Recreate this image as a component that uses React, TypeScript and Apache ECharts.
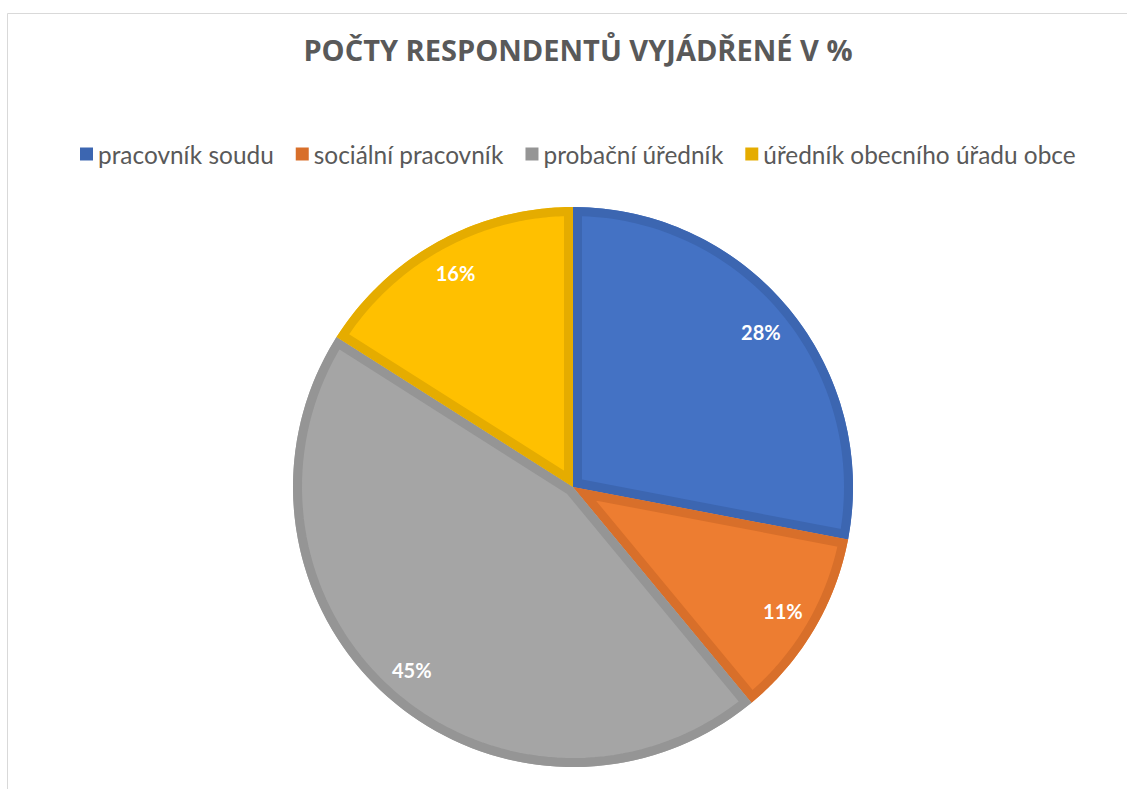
import React, { useEffect, useRef } from "react";
import * as echarts from "echarts";

const TITLE = "POČTY RESPONDENTŮ VYJÁDŘENÉ V %";
const CATEGORIES = [
  "pracovník soudu",
  "sociální pracovník",
  "probační úředník",
  "úředník obecního úřadu obce",
];
const VALUES = [28, 11, 45, 16];
const FILL_COLORS = ["#4472C4", "#ED7D31", "#A5A5A5", "#FFC000"];
const BORDER_COLORS = ["#3C66B1", "#D86F2A", "#959595", "#E5AC00"];

const CX = 573;
const CY = 487;
const R = 280;
const BORDER_W = 9;

export default function App() {
  const ref = useRef<HTMLDivElement>(null);
  useEffect(() => {
    if (!ref.current) return;
    const chart = echarts.init(ref.current, undefined, { renderer: "svg" });
    const total = VALUES.reduce((a, b) => a + b, 0);

    const renderBorder = (params: any, api: any) => {
      const i = params.dataIndex;
      let cum = 0;
      for (let k = 0; k < i; k++) cum += VALUES[k];
      const v = api.value(0);
      const aStart = ((90 - (360 * cum) / total) * Math.PI) / 180;
      const aEnd = ((90 - (360 * (cum + v)) / total) * Math.PI) / 180;
      const t1 = aEnd;
      const t2 = aStart;
      const delta = t2 - t1;
      const d = BORDER_W / 2;
      const bis = (t1 + t2) / 2;
      const pd = d / Math.sin(delta / 2);
      const pts: number[][] = [];
      pts.push([CX + pd * Math.cos(bis), CY - pd * Math.sin(bis)]);
      const rho = R - d;
      const dd = Math.asin(d / rho);
      const a0 = t1 + dd;
      const a1 = t2 - dd;
      const N = 80;
      for (let j = 0; j <= N; j++) {
        const a = a0 + ((a1 - a0) * j) / N;
        pts.push([CX + rho * Math.cos(a), CY - rho * Math.sin(a)]);
      }
      return {
        type: "polygon",
        shape: { points: pts },
        style: {
          fill: "rgba(0,0,0,0)",
          stroke: BORDER_COLORS[i],
          lineWidth: BORDER_W,
          lineJoin: "miter",
          miterLimit: 20,
        },
        silent: true,
      };
    };

    chart.setOption({
      animation: false,
      backgroundColor: "#ffffff",
      title: {
        text: TITLE,
        left: 573,
        textAlign: "center",
        top: 30,
        textStyle: {
          fontFamily: "Open Sans",
          fontWeight: "bold",
          fontSize: 29,
          color: "#595959",
        },
      },
      legend: {
        top: 137,
        left: 75,
        icon: "rect",
        itemWidth: 13,
        itemHeight: 13,
        itemGap: 22,
        selectedMode: false,
        textStyle: {
          fontFamily: "Lato",
          fontSize: 24.4,
          color: "#595959",
        },
        data: CATEGORIES.map((name, i) => ({
          name,
          itemStyle: { color: BORDER_COLORS[i] },
        })),
      },
      graphic: [
        {
          type: "rect",
          shape: { x: 7.5, y: 13.5, width: 1300, height: 1000 },
          style: { fill: "none", stroke: "#D9D9D9", lineWidth: 1 },
          silent: true,
          z: -10,
        },
      ],
      series: [
        {
          type: "pie",
          name: "fill",
          center: [CX, CY],
          radius: [0, R],
          startAngle: 90,
          clockwise: true,
          z: 1,
          silent: true,
          label: { show: false },
          labelLine: { show: false },
          emphasis: { disabled: true },
          data: CATEGORIES.map((name, i) => ({
            name,
            value: VALUES[i],
            itemStyle: { color: FILL_COLORS[i], borderWidth: 0 },
          })),
        },
        {
          type: "custom",
          name: "border",
          coordinateSystem: "none",
          z: 2,
          silent: true,
          renderItem: renderBorder,
          data: VALUES.map((v) => [v]),
        },
        {
          type: "pie",
          name: "labels",
          center: [CX, CY],
          radius: [R * 0.72, R],
          startAngle: 90,
          clockwise: true,
          z: 3,
          silent: true,
          itemStyle: { color: "rgba(0,0,0,0)", borderWidth: 0 },
          label: {
            show: true,
            position: "inside",
            formatter: "{c}%",
            color: "#ffffff",
            fontFamily: "Lato",
            fontWeight: "bold",
            fontSize: 20,
          },
          labelLine: { show: false },
          emphasis: { disabled: true },
          data: CATEGORIES.map((name, i) => ({
            name,
            value: VALUES[i],
            itemStyle: { color: "rgba(0,0,0,0)" },
          })),
        },
      ],
    });
    return () => chart.dispose();
  }, []);
  return (
    <div
      ref={ref}
      style={{ position: "fixed", left: 0, top: 0, width: 1127, height: 789 }}
    />
  );
}
